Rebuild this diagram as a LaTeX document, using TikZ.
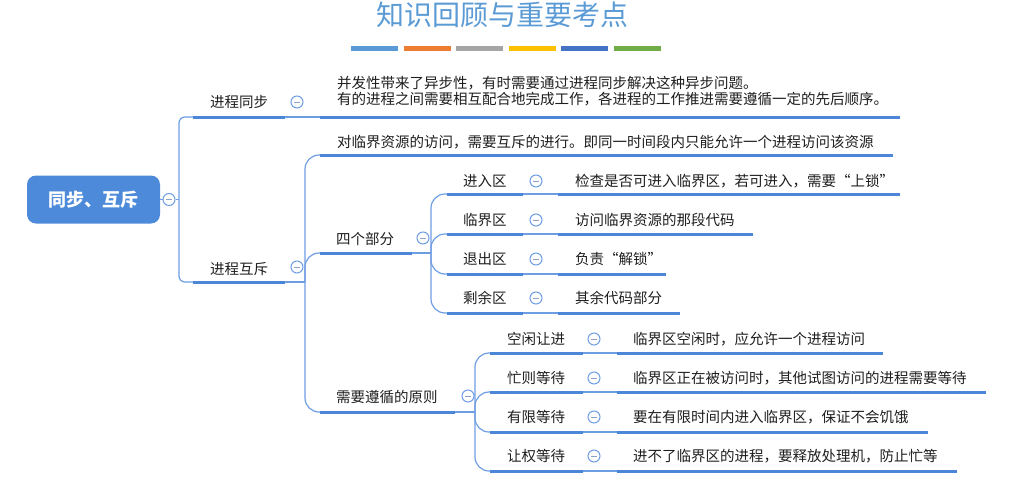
\documentclass[tikz,border=0pt]{standalone}
\usepackage{fontspec}
\setmainfont{Noto Sans CJK SC}
\definecolor{ln}{HTML}{4C86D8}
\definecolor{lnthin}{HTML}{6D9DE2}
\definecolor{rootc}{HTML}{4D8BDA}
\definecolor{titlec}{HTML}{5B9BD5}
\definecolor{txt}{HTML}{1E1E1E}
\definecolor{minusc}{HTML}{8CA3C8}
\definecolor{bar1}{HTML}{5B9BD5}
\definecolor{bar2}{HTML}{ED7D31}
\definecolor{bar3}{HTML}{A5A5A5}
\definecolor{bar4}{HTML}{FFC000}
\definecolor{bar5}{HTML}{4472C4}
\definecolor{bar6}{HTML}{70AD47}
\tikzset{
  uline/.style={draw=ln, line width=3pt},
  thinline/.style={draw=lnthin, line width=1.2pt},
  lbl/.style={anchor=base west, yshift=-5.5pt, inner sep=0pt, font=\fontsize{14.5}{16}\selectfont, text=txt},
  fold/.style={circle, draw=lnthin, fill=white, line width=1pt, minimum size=12pt, inner sep=0pt,
    path picture={\draw[draw=minusc, line width=1pt] ([xshift=-3pt]path picture bounding box.center) -- ([xshift=3pt]path picture bounding box.center);}},
  branch/.style={rounded corners=14pt},
  rootbox/.style={rectangle, rounded corners=9pt, fill=rootc, minimum width=133pt, minimum height=48pt, inner sep=0pt,
    text=white, font=\fontsize{18}{20}\selectfont\bfseries},
}
\begin{document}
\begin{tikzpicture}[x=1pt,y=-1pt]
\useasboundingbox (0,0) rectangle (1028,479);

% title and colour bars
\node[anchor=base, yshift=-10.6pt, inner sep=0pt, font=\fontsize{28}{30}\selectfont, text=titlec] (title) at (502,15) {知识回顾与重要考点};
\foreach \i/\c in {0/bar1,1/bar2,2/bar3,3/bar4,4/bar5,5/bar6}
  \fill[\c] ({351+\i*52.6},45.5) rectangle ++(47,5);

% root
\node[rootbox] (root) at (93.5,199.5) {同步、互斥};
\node[fold] (rfold) at (169,199.5) {};
\coordinate (rj) at (179,199.5);
\draw[thinline] (root.east) -- (rfold.west);
\draw[thinline] (rfold.east) -- (rj);

% level 1: 进程同步
\coordinate (sync-s) at (193,117);
\coordinate (sync-e) at (285,117);
\draw[thinline, rounded corners=6pt] (rj) |- (sync-s);
\draw[uline] (sync-s) -- (sync-e);
\node[lbl] (sync-t) at (210,102) {进程同步};
\node[fold] (sync-f) at (297,102) {};
\coordinate (syncd-s) at (320,117);
\coordinate (syncd-e) at (900,117);
\draw[thinline] (sync-e) -- (syncd-s);
\draw[uline] (syncd-s) -- (syncd-e);
\node[lbl] (syncd-t1) at (337,83) {并发性带来了异步性，有时需要通过进程同步解决这种异步问题。};
\node[lbl] (syncd-t2) at (337,99) {有的进程之间需要相互配合地完成工作，各进程的工作推进需要遵循一定的先后顺序。};

% level 1: 进程互斥
\coordinate (mutex-s) at (193,282);
\coordinate (mutex-e) at (285,282);
\draw[thinline, rounded corners=6pt] (rj) |- (mutex-s);
\draw[uline] (mutex-s) -- (mutex-e);
\node[lbl] (mutex-t) at (210,269) {进程互斥};
\node[fold] (mutex-f) at (297,267) {};
\coordinate (mj) at (305,282);
\draw[thinline] (mutex-e) -- (mj);

% level 2
\coordinate (acc-s) at (320,155);
\coordinate (acc-e) at (893,155);
\draw[thinline, branch] (mj) |- (acc-s);
\draw[uline] (acc-s) -- (acc-e);
\node[lbl] (acc-t) at (337,142) {对临界资源的访问，需要互斥的进行。即同一时间段内只能允许一个进程访问该资源};

\coordinate (four-s) at (320,253);
\coordinate (four-e) at (412,253);
\draw[thinline, branch] (mj) |- (four-s);
\draw[uline] (four-s) -- (four-e);
\node[lbl] (four-t) at (336,239) {四个部分};
\node[fold] (four-f) at (423,238) {};
\coordinate (fj) at (431,253);
\draw[thinline] (four-e) -- (fj);

\coordinate (prin-s) at (320,412);
\coordinate (prin-e) at (455,412);
\draw[thinline, branch] (mj) |- (prin-s);
\draw[uline] (prin-s) -- (prin-e);
\node[lbl] (prin-t) at (336,397) {需要遵循的原则};
\node[fold] (prin-f) at (468,396) {};
\coordinate (pj) at (475,412);
\draw[thinline] (prin-e) -- (pj);

% level 3: 四个部分
\foreach \n/\y/\cy/\lab/\det/\xe in {
  a1/194/181/进入区/{检查是否可进入临界区，若可进入，需要“上锁”}/900,
  a2/234/220/临界区/{访问临界资源的那段代码}/753,
  a3/274/259/退出区/{负责“解锁”}/666,
  a4/313/298/剩余区/{其余代码部分}/680}
{
  \coordinate (\n-s) at (447,\y);
  \coordinate (\n-e) at (523,\y);
  \draw[thinline, branch] (fj) |- (\n-s);
  \draw[uline] (\n-s) -- (\n-e);
  \node[lbl] (\n-t) at (463,\cy) {\lab};
  \node[fold] (\n-f) at (536,\cy) {};
  \coordinate (\n-ds) at (558,\y);
  \coordinate (\n-de) at (\xe,\y);
  \draw[thinline] (\n-e) -- (\n-ds);
  \draw[uline] (\n-ds) -- (\n-de);
  \node[lbl] (\n-dt) at (575,\cy) {\det};
}

% level 3: 需要遵循的原则
\foreach \n/\y/\cy/\lab/\det/\xe in {
  b1/353/339/空闲让进/{临界区空闲时，应允许一个进程访问}/883,
  b2/392/378/忙则等待/{临界区正在被访问时，其他试图访问的进程需要等待}/986,
  b3/432/417/有限等待/{要在有限时间内进入临界区，保证不会饥饿}/928,
  b4/471/456/让权等待/{进不了临界区的进程，要释放处理机，防止忙等}/957}
{
  \coordinate (\n-s) at (490,\y);
  \coordinate (\n-e) at (583,\y);
  \draw[thinline, branch] (pj) |- (\n-s);
  \draw[uline] (\n-s) -- (\n-e);
  \node[lbl] (\n-t) at (507,\cy) {\lab};
  \node[fold] (\n-f) at (594,\cy) {};
  \coordinate (\n-ds) at (617,\y);
  \coordinate (\n-de) at (\xe,\y);
  \draw[thinline] (\n-e) -- (\n-ds);
  \draw[uline] (\n-ds) -- (\n-de);
  \node[lbl] (\n-dt) at (633,\cy) {\det};
}
\end{tikzpicture}
\end{document}
